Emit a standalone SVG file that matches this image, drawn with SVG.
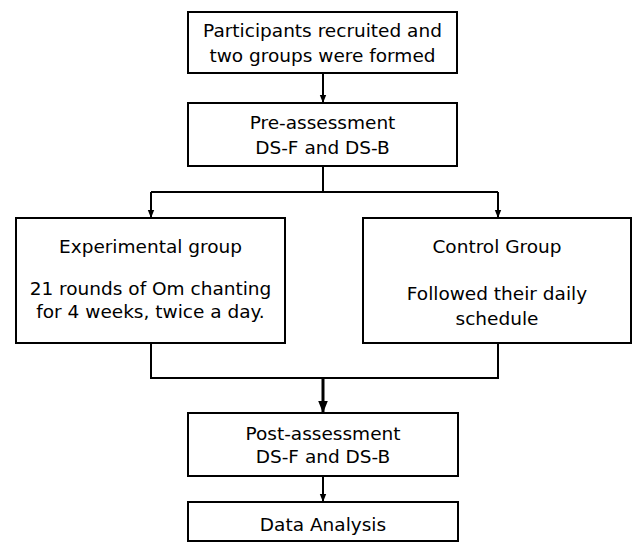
<svg xmlns="http://www.w3.org/2000/svg" width="632" height="548" viewBox="0 0 632 548">
<style>
.box{fill:#fff;stroke:#000;stroke-width:2}
.t{font-family:"DejaVu Sans","Noto Sans",sans-serif;font-size:18.5px;fill:#000;text-anchor:middle}
.c{fill:none;stroke:#000;stroke-width:2}
</style>
<defs>
<marker id="ah" viewBox="0 0 10 10" refX="10" refY="5" markerWidth="4" markerHeight="4" orient="auto" markerUnits="strokeWidth">
<path d="M0,1 L10,5 L0,9 Z" fill="#000"/>
</marker>
</defs>
<rect width="632" height="548" fill="#fff"/>
<g id="connectors">
<line class="c" x1="323" y1="73" x2="323" y2="103" marker-end="url(#ah)"/>
<path class="c" d="M323,166 V192"/>
<path class="c" d="M151,192 H498"/>
<line class="c" x1="151" y1="192" x2="151" y2="218" marker-end="url(#ah)"/>
<line class="c" x1="498" y1="192" x2="498" y2="218" marker-end="url(#ah)"/>
<path class="c" d="M151,343 V378 H498 V343"/>
<line class="c" style="stroke-width:3" x1="323" y1="378" x2="323" y2="413" marker-end="url(#ah)"/>
<line class="c" x1="323" y1="476" x2="323" y2="502" marker-end="url(#ah)"/>
</g>
<g id="n1">
<rect class="box" x="188" y="12" width="269" height="61"/>
<text class="t" x="322.5" y="37">Participants recruited and</text>
<text class="t" x="322.5" y="62">two groups were formed</text>
</g>
<g id="n2">
<rect class="box" x="188" y="103" width="269" height="63"/>
<text class="t" x="322.5" y="129">Pre-assessment</text>
<text class="t" x="322.5" y="154">DS-F and DS-B</text>
</g>
<g id="n3">
<rect class="box" x="16" y="218" width="269" height="125"/>
<text class="t" x="150.5" y="253">Experimental group</text>
<text class="t" x="150.5" y="295">21 rounds of Om chanting</text>
<text class="t" x="150.5" y="318">for 4 weeks, twice a day.</text>
</g>
<g id="n4">
<rect class="box" x="363" y="218" width="268" height="125"/>
<text class="t" x="497" y="253">Control Group</text>
<text class="t" x="497" y="300">Followed their daily</text>
<text class="t" x="497" y="325">schedule</text>
</g>
<g id="n5">
<rect class="box" x="188" y="413" width="270" height="63"/>
<text class="t" x="323" y="440">Post-assessment</text>
<text class="t" x="323" y="463">DS-F and DS-B</text>
</g>
<g id="n6">
<rect class="box" x="188" y="502" width="270" height="39"/>
<text class="t" x="323" y="531">Data Analysis</text>
</g>
</svg>
